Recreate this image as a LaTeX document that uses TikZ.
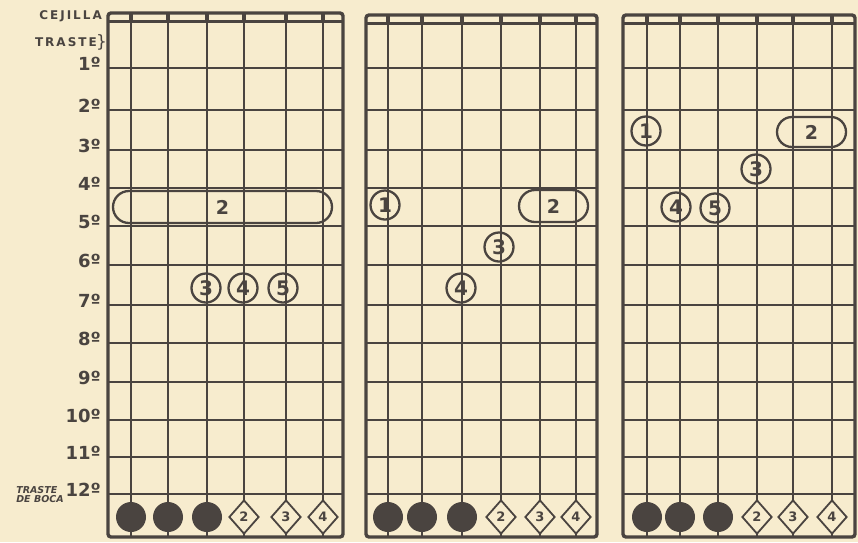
\documentclass[tikz,border=0pt]{standalone}
\usepackage{fontspec}
\setmainfont{DejaVu Sans}
\usetikzlibrary{shapes.geometric,shapes.misc}
\definecolor{paper}{HTML}{F7ECCE}
\definecolor{ink}{HTML}{4A4440}
\begin{document}
\begin{tikzpicture}[x=1pt,y=-1pt,
  framel/.style={draw=ink,line width=3.4pt,rounded corners=3pt},
  fret/.style={draw=ink,line width=2.6pt},
  nutl/.style={draw=ink,line width=3pt},
  strl/.style={draw=ink,line width=1.8pt},
  finger/.style={circle,draw=ink,line width=2.3pt,minimum size=29pt,inner sep=0pt,text=ink,font=\bfseries\fontsize{20}{20}\selectfont},
  barre/.style={rounded rectangle,draw=ink,line width=2.3pt,minimum height=32pt,inner sep=0pt,text=ink,font=\bfseries\fontsize{19}{19}\selectfont},
  openstr/.style={diamond,draw=ink,fill=paper,line width=1.8pt,minimum width=30pt,minimum height=34pt,inner sep=0pt,text=ink,font=\bfseries\fontsize{13}{13}\selectfont},
  mutestr/.style={circle,fill=ink,minimum size=30pt,inner sep=0pt},
  fretlab/.style={anchor=east,text=ink,font=\bfseries\fontsize{18}{18}\selectfont,inner sep=0pt},
  sidelab/.style={anchor=east,text=ink,font=\bfseries\fontsize{12}{12}\selectfont,inner sep=0pt}]
\fill[paper] (0,0) rectangle (858,542);
\useasboundingbox (0,0) rectangle (858,542);
\def\frets{68,110,150,188,226,265,305,343,382,420,457,494}
% ---------- panels ----------
\foreach \L/\R/\T/\sa/\sb/\sc/\sd/\se/\sf in {108/343/13/131/168/207/244/286/323, 366/597/15/388/422/462/501/540/576, 623/855/15/647/680/718/757/793/832}{
  \foreach \y in \frets { \draw[fret] (\L,\y) -- (\R,\y); }
  \foreach \x in {\sa,\sb,\sc,\sd,\se,\sf} { \draw[strl] (\x,\T) -- (\x,537); \draw[nutl,line width=3.6pt] (\x,\T) -- (\x,\T+8); }
  \draw[nutl] (\L,\T+8) -- (\R,\T+8);
  \draw[framel] (\L,\T) rectangle (\R,537);
}
% ---------- side labels ----------
\node[sidelab] (cej) at (102,16) {C\,E\,J\,I\,L\,L\,A};
\node[sidelab] (tra) at (97,42) {T\,R\,A\,S\,T\,E};
\node[anchor=west,text=ink,font=\fontsize{17}{17}\selectfont,inner sep=0pt] (brace) at (96,42) {\}};
\foreach \n/\y in {1/68,2/110,3/150,4/188,5/226,6/265,7/305,8/343,9/382,10/420,11/457,12/494}{
  \node[fretlab] (f\n) at (101,\y-4) {\n º};
}
\node[text=ink,font=\bfseries\itshape\fontsize{9.5}{9}\selectfont,align=left,inner sep=0pt] (boca) at (40,495) {TRASTE\\DE BOCA};
% ---------- panel 1 ----------
\node[barre,minimum width=219pt] (b1) at (222.5,207) {2};
\node[finger] (p1f3) at (206,288) {3};
\node[finger] (p1f4) at (243,288) {4};
\node[finger] (p1f5) at (283,288) {5};
% ---------- panel 2 ----------
\node[finger] (p2f1) at (385,205) {1};
\node[barre,minimum width=69pt] (b2) at (553.5,206) {2};
\node[finger] (p2f3) at (499,247) {3};
\node[finger] (p2f4) at (461,288) {4};
% ---------- panel 3 ----------
\node[finger] (p3f1) at (646,131) {1};
\node[barre,minimum width=69pt,minimum height=30pt] (b3) at (811.5,132) {2};
\node[finger] (p3f3) at (756,169) {3};
\node[finger] (p3f4) at (676,207) {4};
\node[finger] (p3f5) at (715,208) {5};
% ---------- open / muted strings ----------
\foreach \p/\a/\b/\c/\d/\e/\f in {1/131/168/207/244/286/323, 2/388/422/462/501/540/576, 3/647/680/718/757/793/832}{
  \node[mutestr] (m\p a) at (\a,517) {};
  \node[mutestr] (m\p b) at (\b,517) {};
  \node[mutestr] (m\p c) at (\c,517) {};
  \node[openstr] (o\p a) at (\d,517) {2};
  \node[openstr] (o\p b) at (\e,517) {3};
  \node[openstr] (o\p c) at (\f,517) {4};
}
\end{tikzpicture}
\end{document}
